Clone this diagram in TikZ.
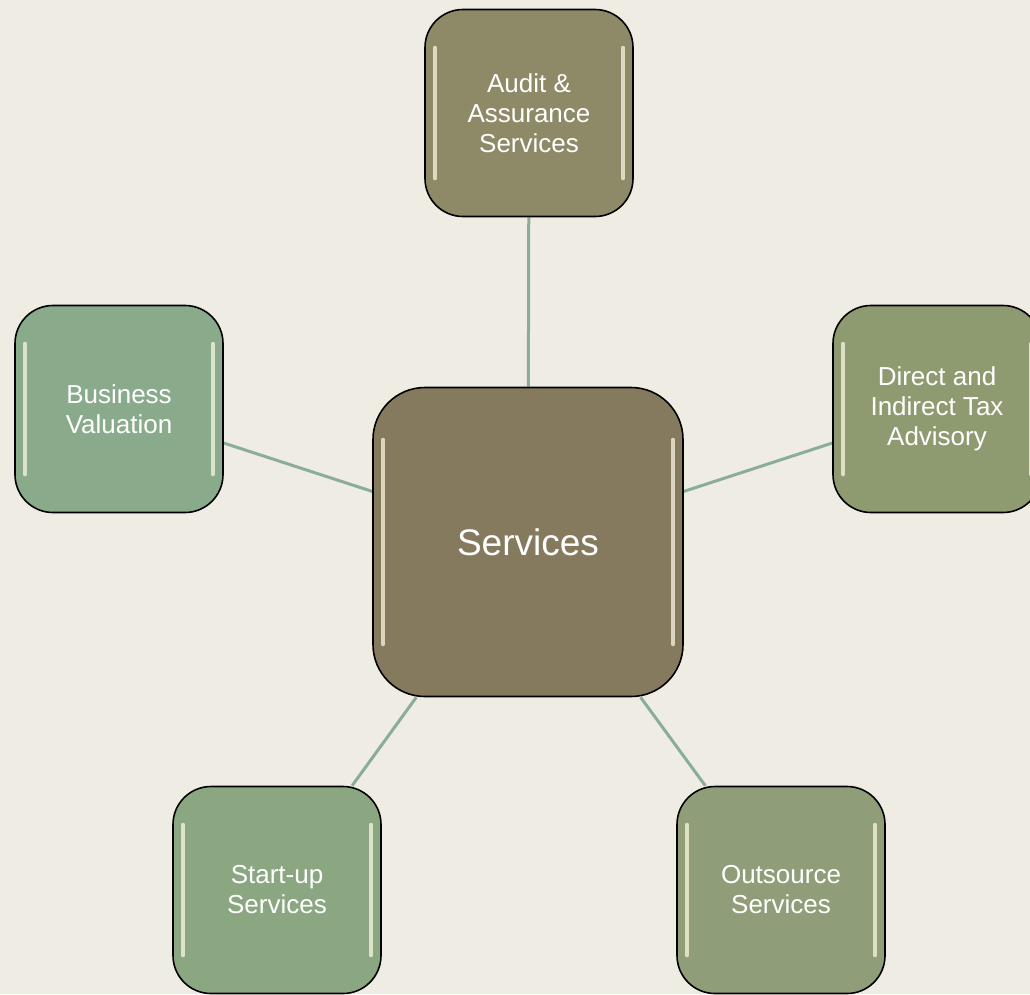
\documentclass[tikz,border=0pt]{standalone}
\usepackage{fontspec}
\setmainfont{Liberation Sans}

\definecolor{paper}{RGB}{239,236,228}
\definecolor{hubcol}{RGB}{133,122,94}
\definecolor{auditcol}{RGB}{142,138,103}
\definecolor{valuecol}{RGB}{138,170,140}
\definecolor{taxcol}{RGB}{142,155,112}
\definecolor{startcol}{RGB}{139,167,130}
\definecolor{outcol}{RGB}{143,158,120}
\definecolor{linkcol}{RGB}{138,173,154}
\definecolor{shine}{RGB}{250,246,225}

\pgfdeclarelayer{bg}
\pgfdeclarelayer{links}
\pgfsetlayers{bg,links,main}

\begin{document}
\begin{tikzpicture}[x=1pt,y=-1pt,
  gloss/.style={path picture={
    \draw[shine,opacity=.75,line width=3.5pt,line cap=round]
      ([xshift=10pt,yshift=-#1]path picture bounding box.north west) --
      ([xshift=10pt,yshift=#1]path picture bounding box.south west)
      ([xshift=-10pt,yshift=-#1]path picture bounding box.north east) --
      ([xshift=-10pt,yshift=#1]path picture bounding box.south east);}},
  box/.style={draw=black,line width=1.6pt,rounded corners=38pt,
    minimum width=208pt,minimum height=207pt,inner sep=0pt,
    text=white,align=center,font=\fontsize{26}{30}\selectfont,gloss=38pt},
  hubbox/.style={box,rounded corners=52pt,minimum width=310pt,
    minimum height=309pt,font=\fontsize{37}{44}\selectfont,gloss=52pt},
  link/.style={draw=linkcol,line width=3pt}]

\useasboundingbox (0,0) rectangle (1030,994);
\begin{pgfonlayer}{bg}
\fill[paper] (0,0) rectangle (1030,994);
\end{pgfonlayer}
\clip (0,0) rectangle (1030,994);

\node[hubbox, fill=hubcol] (hub) at (528,542) {Services};

\node[box, fill=auditcol] (audit) at (529,113) {Audit \&\\Assurance\\Services};
\node[box, fill=valuecol] (value) at (119,409) {Business\\Valuation};
\node[box, fill=taxcol] (tax) at (937,409) {Direct and\\Indirect Tax\\Advisory};
\node[box, fill=startcol] (start) at (277,890) {Start-up\\Services};
\node[box, fill=outcol] (out) at (781,890) {Outsource\\Services};

\begin{pgfonlayer}{links}
\path[link] (hub) -- (audit);
\path[link] (hub) -- (value);
\path[link] (hub) -- (tax);
\path[link] (hub) -- (start);
\path[link] (hub) -- (out);
\end{pgfonlayer}
\end{tikzpicture}
\end{document}
